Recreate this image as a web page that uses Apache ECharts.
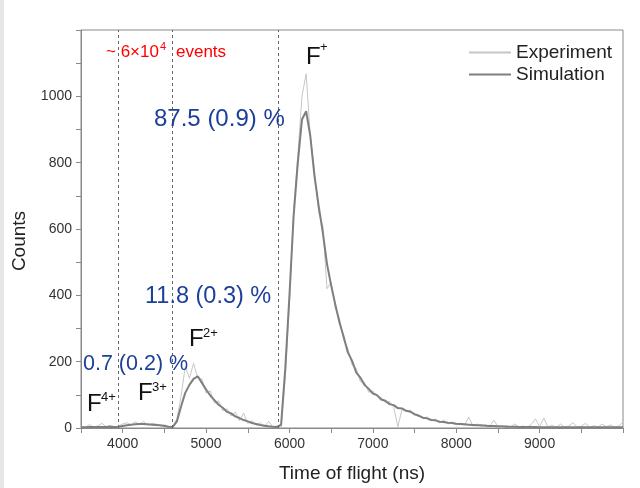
<!DOCTYPE html>
<html>
<head>
<meta charset="utf-8">
<script src="https://cdn.jsdelivr.net/npm/echarts@6/dist/echarts.min.js"></script>
<style>
html,body{margin:0;padding:0;background:#fff;}
#chart{width:640px;height:488px;}
</style>
</head>
<body>
<div id="chart"></div>
<script>
// Time of flight bins (ns)
var tof = [
3500,3550,3600,3650,3700,3750,3800,3850,3900,3950,
4000,4050,4100,4150,4200,4250,4300,4350,4400,4450,
4500,4550,4600,4650,4700,4750,4800,4850,4900,4950,
5000,5050,5100,5150,5200,5250,5300,5350,5400,5450,
5500,5550,5600,5650,5700,5750,5800,5850,5900,5950,
6000,6050,6100,6150,6200,6250,6300,6350,6400,6450,
6500,6550,6600,6650,6700,6750,6800,6850,6900,6950,
7000,7050,7100,7150,7200,7250,7300,7350,7400,7450,
7500,7550,7600,7650,7700,7750,7800,7850,7900,7950,
8000,8050,8100,8150,8200,8250,8300,8350,8400,8450,
8500,8550,8600,8650,8700,8750,8800,8850,8900,8950,
9000,9050,9100,9150,9200,9250,9300,9350,9400,9450,
9500,9550,9600,9650,9700,9750,9800,9850,9900,9950,
10000];

var experiment = [
4,2,10,3,6,14,4,8,3,5,
12,16,9,18,11,20,8,14,12,6,
10,4,6,28,95,185,150,195,150,148,
105,112,75,82,52,58,36,48,22,45,
14,22,8,16,4,20,2,6,3,150,
380,660,820,1000,1068,880,775,650,610,420,
440,360,330,265,240,190,180,140,138,108,
112,95,92,76,80,62,4,56,50,54,
38,40,28,34,22,27,16,24,12,18,
9,14,8,33,6,12,4,10,3,24,
5,3,8,2,12,3,6,2,10,28,
4,30,3,8,2,12,3,6,16,3,
5,14,2,7,3,12,4,9,3,6,
18];

var simulation = [
2,2,3,3,3,3,3,4,3,4,
6,8,10,11,12,12,11,10,9,8,
6,4,3,20,65,106,130,148,156,136,
116,98,84,70,61,49,44,35,30,24,
20,15,12,9,7,5,4,3,10,180,
400,640,800,930,955,880,760,670,590,495,
430,372,318,275,228,203,168,152,130,118,
104,99,86,82,72,69,60,59,52,49,
42,37,31,29,24,23,19,18,16,15,
13,12,11,10,9,8,8,7,6,6,
5,5,4,4,4,3,3,3,3,3,
2,2,2,2,2,2,2,2,2,2,
2,2,2,2,2,2,2,2,2,2,
2];

var dividers = [3950, 4600, 5870];
var seriesNames = ['Experiment', 'Simulation'];
var xLabel = 'Time of flight (ns)';
var yLabel = 'Counts';

var FONT = '"Liberation Sans", Arial, sans-serif';
var chart = echarts.init(document.getElementById('chart'), null, {renderer: 'canvas'});

function pairs(arr) { return tof.map(function (t, i) { return [t, arr[i]]; }); }

function txt(text, x, y, size, color) {
  var s = {text: text, fill: color, font: size + 'px ' + FONT, textAlign: 'left', textVerticalAlign: 'middle'};
  return {type: 'text', x: x, y: y, z: 100, style: s};
}

var option = {
  animation: false,
  backgroundColor: '#ffffff',
  grid: {left: 81, top: 30, right: 17, bottom: 60, show: true, borderColor: '#8a8a8a', borderWidth: 1, backgroundColor: 'transparent'},
  legend: {
    orient: 'vertical', left: 463, top: 38, itemWidth: 42, itemHeight: 14, itemGap: 3,
    itemStyle: {opacity: 0},
    textStyle: {fontFamily: FONT, fontSize: 19, color: '#222'},
    data: seriesNames
  },
  xAxis: {
    type: 'value', min: 3500, max: 10000, interval: 500,
    name: xLabel, nameLocation: 'middle', nameGap: 36,
    nameTextStyle: {fontFamily: FONT, fontSize: 19, color: '#222'},
    axisLine: {show: true, lineStyle: {color: '#8a8a8a', width: 1}},
    axisTick: {show: true, length: 5, lineStyle: {color: '#8a8a8a'}},
    axisLabel: {margin: 9, fontFamily: FONT, fontSize: 14, color: '#333',
      formatter: function (v) { return (v % 1000 === 0 && v < 10000) ? String(v) : ''; }},
    splitLine: {show: false}
  },
  yAxis: {
    type: 'value', min: 0, max: 1200, interval: 100,
    axisLine: {show: true, lineStyle: {color: '#8a8a8a', width: 1}},
    axisTick: {show: true, length: 5, lineStyle: {color: '#8a8a8a'}},
    axisLabel: {margin: 9, fontFamily: FONT, fontSize: 14, color: '#333',
      formatter: function (v) { return (v % 200 === 0 && v < 1200) ? String(v) : ''; }},
    splitLine: {show: false}
  },
  series: [
    {
      name: seriesNames[0], type: 'line', symbol: 'none', showSymbol: false, data: pairs(experiment),
      lineStyle: {color: '#c6c6c6', width: 1}, itemStyle: {color: '#c6c6c6'}, z: 2,
      markLine: {
        silent: true, symbol: 'none', label: {show: false},
        lineStyle: {color: '#666', width: 1, type: [3, 3]},
        data: dividers.map(function (d) { return {xAxis: d}; })
      }
    },
    {
      name: seriesNames[1], type: 'line', symbol: 'none', showSymbol: false, data: pairs(simulation),
      lineStyle: {color: '#7f7f7f', width: 2}, itemStyle: {color: '#7f7f7f'}, z: 3
    }
  ],
  graphic: [
    {type: 'rect', shape: {x: 0, y: 0, width: 4, height: 488}, style: {fill: '#e6e6e6'}},
    {type: 'text', x: 20, y: 241, rotation: Math.PI / 2, z: 100,
      style: {text: yLabel, fill: '#222', font: '19px ' + FONT, textAlign: 'center', textVerticalAlign: 'middle'}},
    txt('~ 6×10', 106, 52, 17, '#ff0000'),
    txt('4', 160, 47, 11, '#ff0000'),
    txt('events', 176, 52, 17, '#ff0000'),
    txt('87.5 (0.9) %', 154, 119, 24, '#1c3f9a'),
    txt('11.8 (0.3) %', 145, 297, 23.5, '#1c3f9a'),
    txt('0.7 (0.2) %', 83, 364, 21.5, '#1c3f9a'),
    txt('F', 306, 57, 24, '#111'),
    txt('+', 320, 47, 13, '#111'),
    txt('F', 189, 339, 24, '#111'),
    txt('2+', 203, 333, 13, '#111'),
    txt('F', 138, 393, 24, '#111'),
    txt('3+', 152, 387, 13, '#111'),
    txt('F', 87, 404, 24, '#111'),
    txt('4+', 101, 397, 13, '#111')
  ]
};
chart.setOption(option);
</script>
</body>
</html>
